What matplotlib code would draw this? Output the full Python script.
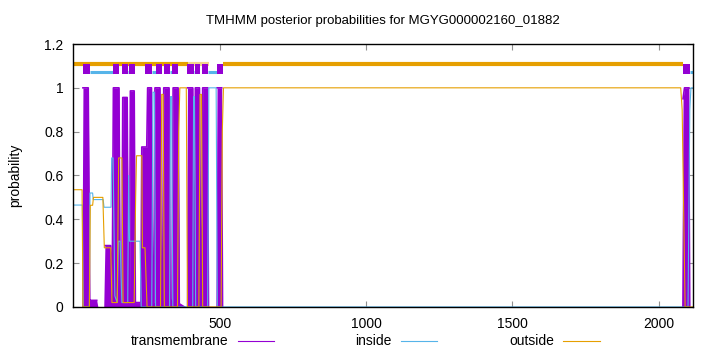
import matplotlib
matplotlib.use("Agg")
import matplotlib.pyplot as plt
from matplotlib.lines import Line2D
import numpy as np

plt.rcParams["font.family"] = ["Liberation Sans", "DejaVu Sans"]

# ── data ─────────────────────────────────────────────────────────────────────
seq_len = 2116

# transmembrane posterior probability
tm_x = [1, 29, 33, 51, 56, 58, 80, 84, 104, 108, 127, 131, 134, 137, 156, 160,
        166, 169, 184, 188, 192, 195, 208, 212, 231, 234, 251, 254, 267, 271,
        275, 279, 296, 301, 305, 309, 327, 331, 337, 341, 358, 362, 386, 390,
        408, 412, 414, 417, 431, 435, 438, 442, 459, 463, 487, 491, 507, 511,
        2078, 2083, 2088, 2103, 2107, 2116]
tm_y = [0, 0, 1.0, 1.0, 0.03, 0.03, 0.03, 0, 0, 0.28, 0.28, 0.05, 0.3, 1.0, 1.0, 0.02,
        0.02, 0.956, 0.956, 0.02, 0.02, 0.986, 0.986, 0.02, 0.02, 0.73, 0.73, 1.0, 1.0, 0.02,
        0.02, 1.0, 1.0, 0.03, 0.03, 1.0, 1.0, 0.03, 0.03, 1.0, 1.0, 0.02, 0.0, 1.0,
        1.0, 0.03, 0.03, 1.0, 1.0, 0.03, 0.03, 1.0, 1.0, 0.0, 0.0, 1.0, 1.0, 0.0,
        0.0, 0.95, 1.0, 1.0, 0.0, 0.0]

# inside posterior probability
in_x = [1, 31, 34, 55, 57, 66, 68, 102, 105, 129, 131, 136, 142, 150, 154, 160,
        166, 186, 189, 192, 196, 212, 228, 232, 252, 268, 272, 277, 281, 296, 329,
        332, 336, 340, 408, 411, 414, 418, 459, 463, 488, 492, 2100, 2106, 2110, 2116]
in_y = [0.465, 0.465, 0.0, 0.0, 0.52, 0.52, 0.49, 0.49, 0.455, 0.455, 0.68, 0.68, 0.05, 0.02, 0.3, 0.3,
        0.02, 0.02, 0.6, 0.3, 0.3, 0.3, 0.3, 0.0, 0.0, 0.0, 0.98, 0.98, 0.0, 0.0, 0.0,
        0.96, 0.96, 0.0, 0.0, 0.96, 0.96, 0.0, 0.0, 1.0, 1.0, 0.0, 0.0, 0.9, 1.0, 1.0]

# outside posterior probability
out_x = [1, 30, 33, 55, 58, 66, 69, 101, 106, 128, 132, 150, 155, 166, 170, 208,
         213, 216, 234, 236, 245, 252, 298, 302, 307, 311, 356, 360, 364, 386,
         390, 429, 433, 438, 442, 505, 509, 513, 2075, 2080, 2090, 2116]
out_y = [0.535, 0.535, 0.0, 0.0, 0.464, 0.464, 0.5, 0.5, 0.27, 0.27, 0.02, 0.02, 0.68, 0.68, 0.02, 0.02,
         0.5, 0.69, 0.69, 0.27, 0.27, 0.0, 0.0, 0.97, 0.97, 0.0, 0.0, 0.8, 1.0, 1.0,
         0.0, 0.0, 0.97, 0.97, 0.0, 0.0, 0.8, 1.0, 1.0, 0.9, 0.0, 0.0]

# predicted topology (top annotation)
tm_segments = [(34, 57), (135, 157), (166, 187), (191, 212), (246, 270), (282, 304),
               (309, 331), (336, 359), (388, 411), (416, 434), (439, 461), (491, 511),
               (2084, 2107)]
inside_segments = [(57, 135), (187, 191), (270, 282), (331, 336), (411, 416),
                   (461, 491), (2107, 2116)]
outside_segments = [(0, 391), (511, 2084)]
outside_faint = [(391, 465)]

PURPLE = "#9400D3"
BLUE = "#56B4E9"
ORANGE = "#E69F00"

fig = plt.figure(figsize=(7.2, 3.52), dpi=100)
ax = fig.add_axes([0.1018, 0.128, 0.8603, 0.747])

# posterior curves (tm drawn like gnuplot impulses: filled under the curve)
ax.fill_between(tm_x, tm_y, 0, color=PURPLE, lw=0, zorder=2)
tm_line = np.ma.masked_where(np.array(tm_y) <= 0, tm_y)
ax.plot(tm_x, tm_line, color=PURPLE, lw=1.2, zorder=2, solid_joinstyle="round")
ax.plot(in_x, in_y, color=BLUE, lw=0.8, zorder=3)
ax.plot(out_x, out_y, color=ORANGE, lw=0.8, zorder=3)

# topology annotation
for a, b in outside_segments:
    ax.plot([a, b], [1.11, 1.11], color=ORANGE, lw=3, solid_capstyle="butt", zorder=3)
for a, b in outside_faint:
    ax.plot([a, b], [1.11, 1.11], color=ORANGE, lw=3, alpha=0.45,
            solid_capstyle="butt", zorder=3)
for a, b in inside_segments:
    ax.plot([a, b], [1.07, 1.07], color=BLUE, lw=2.2, solid_capstyle="butt", zorder=3)
for a, b in tm_segments:
    ax.fill_between([a, b], 1.064, 1.108, color=PURPLE, lw=0, zorder=4)

ax.set_xlim(0, seq_len)
ax.set_ylim(0, 1.2)
ax.set_xticks([500, 1000, 1500, 2000])
ax.set_yticks([0, 0.2, 0.4, 0.6, 0.8, 1, 1.2])
ax.set_yticklabels(["0", "0.2", "0.4", "0.6", "0.8", "1", "1.2"])
ax.tick_params(direction="in", top=True, right=True, length=4, width=0.8,
               color="#909090", labelsize=10, pad=7)
for s in ax.spines.values():
    s.set_linewidth(1.0)
    s.set_zorder(5)

ax.set_ylabel("probability", fontsize=10, labelpad=16)
fig.text(0.532, 0.94, "TMHMM posterior probabilities for MGYG000002160_01882",
         ha="center", va="center", fontsize=9.5)

# legend row below the axes
legend_items = [("transmembrane", PURPLE, 228 / 720, 238 / 720, 274 / 720),
                ("inside", BLUE, 392 / 720, 401 / 720, 437 / 720),
                ("outside", ORANGE, 554 / 720, 563 / 720, 600 / 720)]
ly = 1 - 341 / 352
for label, c, tx, x0, x1 in legend_items:
    fig.text(tx, ly, label, ha="right", va="center", fontsize=10)
    fig.add_artist(Line2D([x0, x1], [ly, ly], color=c, lw=0.8,
                          transform=fig.transFigure))

fig.savefig("out.png", dpi=100)
